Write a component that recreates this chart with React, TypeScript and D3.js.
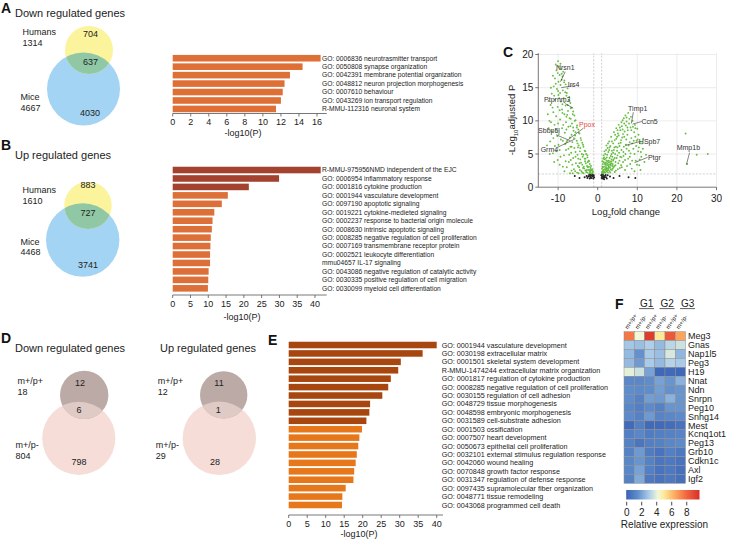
import React from 'react';
import * as d3 from 'd3';

const FONT = '"Liberation Sans", Arial, Helvetica, sans-serif';

// ---------------- Venn data ----------------
const vennABNames = ['Humans', 'Mice'];
const vennATotals = [1314, 4667];
const vennACounts = [704, 637, 4030]; // top only, overlap, bottom only
const vennBTotals = [1610, 4468];
const vennBCounts = [883, 727, 3741];
const vennDNames = ['m+/p+', 'm+/p-'];
const vennDDownTotals = [18, 804];
const vennDDownCounts = [12, 6, 798];
const vennDUpTotals = [12, 29];
const vennDUpCounts = [11, 1, 28];

// ---------------- GO bar data ----------------
const goALabels = [
  'GO: 0006836 neurotrasmitter transport',
  'GO: 0050808 synapse organization',
  'GO: 0042391 membrane potential organization',
  'GO: 0048812 neuron projection morphogenesis',
  'GO: 0007610 behaviour',
  'GO: 0043269 ion transport regulation',
  'R-MMU-112316 neuronal system',
];
const goAValues = [16.4, 14.4, 13.0, 12.4, 12.2, 12.0, 11.45];

const goBLabels = [
  'R-MMU-975956NMD independent of the EJC',
  'GO: 0006954 inflammatory response',
  'GO: 0001816 cytokine production',
  'GO: 0001944 vasculature development',
  'GO: 0097190 apoptotic signaling',
  'GO: 0019221 cytokine-medieted signaling',
  'GO: 0002237 response to bacterial origin molecule',
  'GO: 0008630 intrinsic apoptotic signaling',
  'GO: 0008285 negative regulation of cell proliferation',
  'GO: 0007169 transmembrane receptor protein',
  'GO: 0002521 leukocyte differentiation',
  'mmu04657 IL-17 signaling',
  'GO: 0043086 negative regulation of catalytic activity',
  'GO: 0030335 positive regulation of cell migration',
  'GO: 0030099 myeloid cell differentiation',
];
const goBValues = [41.6, 29.9, 21.4, 15.5, 13.8, 11.7, 11.2, 11.0, 10.7, 10.6, 10.5, 10.5, 10.1, 10.0, 9.9];

const goELabels = [
  'GO: 0001944 vasculature development',
  'GO: 0030198 extracellular matrix',
  'GO: 0001501 skeletal system development',
  'R-MMU-1474244 extracellular matrix organization',
  'GO: 0001817 regulation of cytokine production',
  'GO: 0008285 negative regulation of cell proliferation',
  'GO: 0030155 regulation of cell adhesion',
  'GO: 0048729 tissue morphogenesis',
  'GO: 0048598 embryonic morphogenesis',
  'GO: 0031589 cell-substrate adhesion',
  'GO: 0001503 ossification',
  'GO: 0007507 heart development',
  'GO: 0050673 epithelial cell proliferation',
  'GO: 0032101 external stimulus regulation response',
  'GO: 0042060 wound healing',
  'GO: 0070848 growth factor response',
  'GO: 0031347 regulation of defense response',
  'GO: 0097435 supramolecular fiber organization',
  'GO: 0048771 tissue remodeling',
  'GO: 0043068 programmed cell death',
];
const goEValues = [40.0, 36.2, 30.3, 29.6, 27.6, 26.9, 25.3, 22.0, 21.8, 21.0, 19.8, 19.1, 18.8, 18.4, 18.1, 17.7, 17.5, 15.4, 14.5, 14.4];

// ---------------- Volcano data ----------------
const volcanoDown: [number, number][] = [
  [-10, 19], [-9.8, 18.2], [-10.4, 17.6], [-9.2, 17.8], [-9.6, 16.9], [-10.8, 16.4], [-8.9, 16.7], [-9.9, 15.9], [-8.4, 16.1],
  [-11.1, 15.2], [-9.4, 15.4], [-8.1, 15.5], [-10.3, 14.8], [-8.8, 14.6], [-7.6, 14.9], [-11.6, 14.1], [-9.9, 13.9], [-7.9, 13.8],
  [-8.6, 13.4], [-10.8, 13.2], [-7.2, 13.6], [-9.3, 12.9], [-6.9, 12.7], [-11.9, 12.4], [-8.1, 12.3], [-10.1, 12.1], [-6.6, 12.0],
  [-9.0, 11.7], [-7.5, 11.5], [-11.2, 11.3], [-6.2, 11.4], [-8.4, 11.0], [-10.5, 10.7], [-5.9, 10.8], [-7.1, 10.4], [-9.5, 10.2],
  [-12.2, 10.0], [-5.6, 10.1], [-8.0, 9.8], [-6.5, 9.6], [-10.9, 9.4], [-5.2, 9.3], [-7.4, 9.1], [-9.0, 8.9], [-4.9, 8.7],
  [-6.1, 8.5], [-11.5, 8.4], [-8.3, 8.2], [-4.6, 8.1], [-5.7, 7.8], [-10.2, 7.7], [-7.0, 7.5], [-4.3, 7.4], [-9.3, 7.2],
  [-5.3, 7.0], [-12.0, 6.9], [-6.4, 6.8], [-3.9, 6.7], [-8.2, 6.5], [-4.8, 6.3], [-10.8, 6.2], [-3.6, 6.1], [-5.9, 5.9],
  [-7.4, 5.8], [-9.6, 5.6], [-3.3, 5.5], [-4.5, 5.4], [-6.7, 5.2], [-11.3, 5.1], [-2.9, 5.0], [-5.1, 4.9], [-8.5, 4.8],
  [-3.8, 4.6], [-2.6, 4.5], [-6.2, 4.4], [-4.4, 4.2], [-10.1, 4.1], [-2.3, 4.0], [-3.2, 3.9], [-7.3, 3.8], [-5.5, 3.6],
  [-2.0, 3.5], [-3.9, 3.4], [-2.7, 3.2], [-8.8, 3.1], [-4.7, 3.0], [-1.8, 2.9], [-3.4, 2.8], [-6.0, 2.7], [-2.4, 2.6],
  [-1.5, 2.5], [-4.1, 2.4], [-2.9, 2.3], [-1.3, 2.2], [-5.2, 2.2], [-2.1, 2.1], [-3.6, 2.1], [-1.6, 2.05], [-7.0, 2.1],
  [-9.1, 17.1], [-8.5, 15.8], [-7.8, 14.2], [-7.3, 13.1], [-6.8, 11.9], [-6.3, 11.0], [-5.8, 10.0], [-5.3, 9.0], [-4.8, 8.2],
  [-4.2, 7.1], [-3.7, 6.4], [-3.1, 5.4], [-2.6, 4.8], [-2.2, 3.9], [-1.7, 3.2], [-1.4, 2.7], [-9.5, 14.2], [-8.9, 12.5],
  [-7.7, 10.9], [-6.9, 9.2], [-6.0, 7.4], [-5.0, 6.0], [-4.0, 5.0], [-3.0, 3.6], [-2.0, 2.6], [-1.9, 2.3], [-2.5, 3.0],
  [-3.3, 4.3], [-1.2, 2.4], [-1.7, 2.6], [-2.8, 2.6], [-3.5, 3.1], [-4.6, 3.6], [-5.6, 4.6], [-6.6, 6.1], [-7.7, 7.0],
  [-10.6, 18.5], [-9.4, 18.6], [-10.1, 17.2], [-11.3, 16.8], [-8.7, 17.4], [-10.6, 15.6], [-9.1, 16.2], [-11.8, 15.0],
  [-8.2, 14.3], [-10.0, 14.5], [-11.0, 13.8], [-9.7, 13.4], [-12.4, 13.0], [-8.4, 12.8], [-7.6, 12.4], [-11.4, 12.0],
  [-9.6, 11.6], [-8.9, 11.2], [-12.6, 11.0], [-7.9, 10.6], [-6.8, 10.3], [-11.8, 9.8], [-10.0, 9.6], [-8.7, 9.4],
  [-6.2, 9.0], [-7.9, 8.7], [-12.4, 8.9], [-10.6, 8.5], [-5.6, 8.3], [-9.8, 8.0], [-6.6, 7.9], [-11.2, 7.4], [-8.8, 7.0],
  [-7.9, 6.8], [-5.1, 6.6], [-12.8, 6.3], [-9.9, 6.4], [-6.9, 6.1], [-4.4, 5.9], [-8.0, 5.6], [-10.5, 5.4], [-5.6, 5.3],
  [-12.1, 5.0], [-7.2, 4.9], [-3.6, 4.9], [-9.4, 4.6], [-4.9, 4.3], [-6.8, 4.1], [-3.1, 4.3], [-8.1, 3.9], [-11.0, 3.8],
  [-4.2, 3.7], [-6.4, 3.4], [-2.5, 3.8], [-9.6, 3.4], [-5.0, 3.2], [-7.8, 3.0], [-3.7, 2.9], [-2.2, 3.1], [-6.6, 2.5],
  [-4.5, 2.6], [-8.4, 2.4], [-3.1, 2.5], [-1.9, 2.4], [-5.7, 2.4], [-2.6, 2.2], [-4.8, 2.1], [-1.4, 2.1], [-3.9, 2.2],
  [-6.3, 2.1],
];
const volcanoUp: [number, number][] = [
  [1.2, 2.1], [1.4, 2.6], [1.6, 3.1], [1.3, 3.5], [1.8, 2.3], [2.0, 2.9], [2.1, 3.7], [1.7, 4.2], [2.4, 2.5], [2.6, 3.3],
  [2.3, 4.5], [2.8, 4.0], [1.9, 5.0], [3.0, 2.4], [3.1, 3.0], [2.7, 5.3], [3.3, 4.7], [3.5, 3.6], [2.5, 5.9], [3.8, 2.8],
  [3.6, 5.5], [4.0, 4.2], [3.2, 6.2], [4.2, 3.2], [4.4, 5.0], [3.9, 6.6], [4.6, 2.5], [4.8, 4.4], [4.3, 7.1], [5.0, 6.0],
  [5.2, 3.6], [4.9, 7.6], [5.4, 5.2], [5.6, 2.9], [5.1, 8.1], [5.8, 6.7], [6.0, 4.5], [5.7, 8.6], [6.2, 7.5], [6.4, 3.8],
  [6.1, 9.2], [6.6, 6.1], [6.8, 8.4], [7.0, 5.0], [6.7, 9.6], [7.2, 7.2], [7.4, 3.2], [7.3, 9.9], [7.6, 8.6], [7.8, 6.3],
  [8.0, 10.3], [8.1, 4.6], [8.3, 9.0], [8.5, 7.4], [8.6, 2.8], [8.8, 10.0], [9.0, 5.8], [9.2, 8.3], [9.4, 9.4], [9.6, 4.0],
  [9.8, 7.0], [10.0, 8.8], [10.2, 5.4], [10.5, 3.3], [10.7, 6.6], [11.0, 4.6], [11.4, 5.8], [11.8, 3.8], [12.2, 4.9],
  [1.5, 4.8], [2.2, 6.3], [2.9, 6.9], [3.4, 7.6], [4.1, 8.3], [4.7, 8.9], [5.3, 9.4], [6.3, 10.1], [7.0, 10.8], [7.7, 11.2],
  [1.1, 2.8], [1.5, 3.8], [2.0, 2.2], [2.2, 4.0], [2.5, 2.8], [2.9, 3.4], [3.2, 2.2], [3.4, 3.9], [3.7, 4.6], [4.0, 3.0],
  [4.5, 3.8], [5.0, 4.8], [5.5, 4.0], [6.0, 5.6], [6.5, 4.7], [7.1, 6.4], [7.9, 5.5], [8.7, 6.6], [9.5, 7.6], [10.3, 7.9],
  [1.3, 2.4], [1.7, 2.7], [2.1, 3.2], [2.6, 2.2], [3.0, 4.4], [3.6, 2.6], [4.3, 2.3], [4.6, 6.1], [5.9, 3.3], [6.9, 2.6],
  [8.2, 3.5], [9.3, 2.4], [10.8, 2.6], [11.5, 7.3], [1.2, 3.1], [1.4, 2.2], [1.9, 3.4], [2.3, 2.4], [2.7, 3.7], [3.3, 3.3],
  [1.6, 2.3], [2.0, 4.3], [2.4, 3.5], [2.8, 2.9], [3.5, 4.2], [3.9, 5.2], [4.2, 6.0], [5.3, 6.6], [6.4, 8.0], [7.5, 9.0],
  [1.1, 2.3], [1.3, 3.0], [1.5, 2.1], [1.8, 3.6], [1.6, 4.5], [2.0, 3.5], [2.2, 2.7], [2.4, 4.9], [2.7, 2.6], [2.9, 5.6],
  [3.1, 3.8], [3.3, 2.7], [3.5, 5.0], [3.7, 3.2], [3.9, 4.0], [4.1, 5.6], [4.3, 4.4], [4.5, 3.3], [4.7, 7.3], [4.9, 5.5],
  [5.1, 2.7], [5.3, 7.8], [5.5, 6.2], [5.7, 4.6], [5.9, 7.1], [6.1, 3.0], [6.3, 8.7], [6.5, 5.3], [6.7, 7.6], [6.9, 4.1],
  [7.1, 9.3], [7.3, 5.8], [7.5, 7.9], [7.7, 4.3], [7.9, 9.6], [8.1, 6.8], [8.3, 5.1], [8.5, 8.6], [8.7, 4.0], [8.9, 9.1],
  [9.1, 7.0], [9.3, 5.0], [9.5, 8.9], [9.7, 6.2], [9.9, 3.4], [10.1, 7.2], [10.4, 6.0], [10.6, 4.2], [10.9, 5.3], [11.2, 6.6],
  [1.2, 3.9], [1.4, 4.3], [1.7, 5.4], [2.1, 5.6], [2.6, 6.6], [3.0, 6.0], [3.6, 6.9], [4.4, 7.9], [5.0, 8.6], [5.6, 9.0],
  [6.0, 9.8], [6.6, 10.4], [7.3, 10.5], [8.4, 10.6], [2.3, 2.9], [2.8, 3.1], [3.2, 3.5], [1.9, 2.6], [2.5, 3.9], [3.8, 3.5],
  [22.2, 8.1], [22.6, 3.5], [25.0, 4.9], [27.8, 5.0],
];
const volcanoNS: [number, number][] = [
  [-1.2, 1.6], [-1.5, 1.8], [-1.8, 1.5], [-2.1, 1.9], [-2.4, 1.6], [-1.3, 1.95], [-2.8, 1.7], [-3.3, 1.5], [-1.6, 1.4],
  [-2.0, 1.3], [-4.6, 1.4], [-5.8, 1.7], [1.1, 1.6], [1.3, 1.9], [1.5, 1.4], [1.8, 1.7], [2.1, 1.5], [1.2, 1.3], [2.5, 1.8],
  [1.6, 1.2], [3.1, 1.6], [4.0, 1.4], [5.5, 1.7], [7.8, 1.5], [9.5, 1.4], [-0.9, 1.5], [0.9, 1.8], [-1.1, 1.3], [1.0, 1.4],
  [-1.4, 1.7], [1.4, 1.7], [-2.2, 1.7], [2.0, 1.85], [-1.7, 1.9], [-1.0, 1.8], [-2.6, 1.4], [1.7, 1.5], [1.1, 1.95],
  [2.3, 1.3], [1.4, 1.5], [-1.9, 1.7],
];
// label, point x, point y, label-anchor x, label-anchor y, text x, text y
const volcanoLabels: [string, number, number, number, number, number, number][] = [
  ['Nrsn1', -9.4, 15.9, -8.2, 17.4, -8.2, 18.1],
  ['Irs4', -9.2, 15.0, -6.2, 15.3, -6.1, 15.5],
  ['Ptprnm3', -6.2, 11.9, -8.2, 12.6, -10.2, 13.2],
  ['Sbbp5l', -6.9, 7.0, -10.5, 7.9, -12.3, 8.6],
  ['Ppox', -7.4, 7.2, -3.6, 8.9, -2.7, 9.5],
  ['Grm4', -5.6, 7.3, -10.2, 6.0, -12.2, 5.7],
  ['Timp1', 8.5, 9.6, 9.0, 11.3, 10.1, 11.9],
  ['Ccn5', 8.8, 9.5, 11.1, 9.9, 13.1, 9.9],
  ['HSpb7', 7.0, 6.3, 10.8, 6.9, 13.1, 6.9],
  ['Ptgr', 9.3, 3.7, 12.6, 4.5, 14.3, 4.4],
  ['Mmp1b', 22.4, 3.4, 23.2, 5.2, 22.9, 6.0],
];
const volcanoXTicks = [-10, 0, 10, 20, 30];
const volcanoYTicks = [0, 5, 10, 15, 20];

// ---------------- Heatmap data ----------------
const genes = ['Meg3', 'Gnas', 'Nap1l5', 'Peg3', 'H19', 'Nnat', 'Ndn', 'Snrpn', 'Peg10', 'Snhg14', 'Mest', 'Kcnq1ot1', 'Peg13', 'Grb10', 'Cdkn1c', 'Axl', 'Igf2'];
const hmColumns = ['m+/p+', 'm+/p-', 'm+/p+', 'm+/p-', 'm+/p+', 'm+/p-'];
const hmGroups = ['G1', 'G2', 'G3'];
const hmValues = [
  [7.6, 4.2, 9.3, 5.0, 8.4, 6.6],
  [2.9, 2.7, 3.1, 2.6, 3.3, 3.6],
  [2.6, 1.6, 3.0, 2.7, 3.8, 2.5],
  [2.6, 1.8, 3.0, 2.6, 3.2, 3.0],
  [4.0, 3.6, 2.0, 0.2, 0.3, 0.2],
  [1.3, 1.3, 1.5, 2.0, 1.7, 2.4],
  [1.5, 1.4, 1.5, 1.9, 1.6, 1.7],
  [1.5, 1.1, 1.9, 1.8, 2.4, 1.7],
  [1.3, 1.0, 1.4, 1.1, 1.7, 1.7],
  [1.4, 1.1, 1.8, 1.2, 1.3, 1.4],
  [0.3, 1.0, 0.3, 0.3, 0.4, 0.6],
  [1.0, 1.3, 0.9, 1.0, 1.1, 1.2],
  [1.1, 0.7, 1.0, 1.1, 1.3, 1.4],
  [1.1, 1.8, 0.9, 0.6, 1.0, 0.8],
  [1.3, 1.7, 1.1, 0.7, 0.8, 0.6],
  [1.3, 2.0, 1.0, 0.6, 0.8, 0.5],
  [1.1, 2.2, 0.8, 0.6, 0.8, 0.5],
];
const colorStops = [0, 1.5, 3, 4.2, 5, 6.5, 8, 9.7];
const colorHex = ['#3a62b5', '#5f8dcb', '#a9cbe9', '#f1f7d7', '#fde99a', '#fca85e', '#f0653f', '#d7302a'];
const colorbarTicks = [0, 2, 4, 6, 8];

// ---------------- Components ----------------
type VennProps = {
  id: string;
  small: [number, number, number];
  big: [number, number, number];
  colors: [string, string, string];
  names: string[];
  totals: number[];
  counts: number[];
  nameX: number;
  nameY: [number, number];
  countPos: [number, number][];
};

function Venn(p: VennProps) {
  const fs = 9;
  return (
    <g fontFamily={FONT} fontSize={fs} fill="#222">
      <defs>
        <clipPath id={p.id}>
          <circle cx={p.big[0]} cy={p.big[1]} r={p.big[2]} />
        </clipPath>
      </defs>
      <circle cx={p.big[0]} cy={p.big[1]} r={p.big[2]} fill={p.colors[1]} />
      <circle cx={p.small[0]} cy={p.small[1]} r={p.small[2]} fill={p.colors[0]} />
      <circle cx={p.small[0]} cy={p.small[1]} r={p.small[2]} fill={p.colors[2]} clipPath={`url(#${p.id})`} />
      <text x={p.nameX} y={p.nameY[0]} dy="0.35em">{p.names[0]}</text>
      <text x={p.nameX} y={p.nameY[0] + 10.5} dy="0.35em">{p.totals[0]}</text>
      <text x={p.nameX - 2} y={p.nameY[1]} dy="0.35em">{p.names[1]}</text>
      <text x={p.nameX - 2} y={p.nameY[1] + 10.5} dy="0.35em">{p.totals[1]}</text>
      {p.counts.map((c, i) => (
        <text key={i} x={p.countPos[i][0]} y={p.countPos[i][1]} dy="0.35em" textAnchor="middle">{c}</text>
      ))}
    </g>
  );
}

type BarsProps = {
  labels: string[];
  values: number[];
  nDark: number;
  dark: string;
  light: string;
  x0: number;
  x1: number;
  maxV: number;
  tickStep: number;
  top: number;
  step: number;
  axisY: number;
  axisEnd: number;
  labelX: number;
  labelSize: number;
  titleX: number;
  titleY: number;
};

function GoBars(p: BarsProps) {
  const n = p.values.length;
  const x = d3.scaleLinear().domain([0, p.maxV]).range([p.x0, p.x1]);
  const y = d3.scaleBand<number>().domain(d3.range(n)).range([p.top, p.top + n * p.step]).paddingInner(0.22).paddingOuter(0.11);
  const ticks = d3.range(0, p.maxV + 0.001, p.tickStep);
  return (
    <g fontFamily={FONT}>
      {p.values.map((v, i) => (
        <rect key={i} x={x(0)} y={y(i)} width={x(v) - x(0)} height={y.bandwidth()} fill={i < p.nDark ? p.dark : p.light} />
      ))}
      {p.labels.map((l, i) => (
        <text key={i} x={p.labelX} y={(y(i) as number) + y.bandwidth() / 2} dy="0.35em" fontSize={p.labelSize} fill="#222">{l}</text>
      ))}
      <line x1={p.x0} x2={p.axisEnd} y1={p.axisY} y2={p.axisY} stroke="#555" strokeWidth={0.8} />
      {ticks.map((t) => (
        <g key={t}>
          <line x1={x(t)} x2={x(t)} y1={p.axisY} y2={p.axisY + 3} stroke="#555" strokeWidth={0.8} />
          <text x={x(t)} y={p.axisY + 8.5} dy="0.35em" fontSize={9} textAnchor="middle" fill="#222">{t}</text>
        </g>
      ))}
      <text x={p.titleX} y={p.titleY} dy="0.35em" fontSize={9} textAnchor="middle" fill="#222">-log10(P)</text>
    </g>
  );
}

function Volcano() {
  const x = d3.scaleLinear().domain([-15, 30]).range([538.3, 716.5]);
  const y = d3.scaleLinear().domain([0, 20]).range([187.2, 54.5]);
  const [xa, xb] = x.range();
  const top = y(20.2);
  return (
    <g fontFamily={FONT}>
      {volcanoYTicks.filter((t) => t > 0).map((t) => (
        <line key={'gy' + t} x1={xa} x2={xb} y1={y(t)} y2={y(t)} stroke="#e4e4e4" strokeWidth={0.7} />
      ))}
      {volcanoXTicks.filter((t) => t !== 0).map((t) => (
        <line key={'gx' + t} x1={x(t)} x2={x(t)} y1={y(0)} y2={top} stroke="#e4e4e4" strokeWidth={0.7} />
      ))}
      <line x1={x(-1)} x2={x(-1)} y1={y(0)} y2={top} stroke="#bbb" strokeWidth={0.7} strokeDasharray="2,1.5" />
      <line x1={x(1)} x2={x(1)} y1={y(0)} y2={top} stroke="#bbb" strokeWidth={0.7} strokeDasharray="2,1.5" />
      <line x1={xa} x2={xb} y1={y(2)} y2={y(2)} stroke="#bbb" strokeWidth={0.7} strokeDasharray="2,1.5" />
      {volcanoNS.map((d, i) => (
        <circle key={'n' + i} cx={x(d[0])} cy={y(d[1])} r={1} fill="#222" />
      ))}
      {volcanoDown.concat(volcanoUp).map((d, i) => (
        <circle key={'g' + i} cx={x(d[0])} cy={y(d[1])} r={0.95} fill="#66bd42" />
      ))}
      {volcanoLabels.map((l) => (
        <g key={l[0]}>
          <line x1={x(l[1])} y1={y(l[2])} x2={x(l[3])} y2={y(l[4])} stroke="#333" strokeWidth={0.6} />
          <text x={x(l[5])} y={y(l[6])} dy="0.35em" fontSize={7} textAnchor="middle" fill={l[0] === 'Ppox' ? '#e8463c' : '#333'}>{l[0]}</text>
        </g>
      ))}
      <line x1={xa} x2={xa} y1={y(0)} y2={top} stroke="#555" strokeWidth={0.8} />
      <line x1={xa} x2={xb} y1={y(0)} y2={y(0)} stroke="#555" strokeWidth={0.8} />
      {volcanoYTicks.map((t) => (
        <g key={'yt' + t}>
          <line x1={xa - 3} x2={xa} y1={y(t)} y2={y(t)} stroke="#555" strokeWidth={0.8} />
          <text x={xa - 5} y={y(t)} dy="0.35em" fontSize={10} textAnchor="end" fill="#222">{t}</text>
        </g>
      ))}
      {volcanoXTicks.map((t) => (
        <g key={'xt' + t}>
          <line x1={x(t)} x2={x(t)} y1={y(0)} y2={y(0) + 3} stroke="#555" strokeWidth={0.8} />
          <text x={x(t)} y={y(0) + 11} dy="0.35em" fontSize={10} textAnchor="middle" fill="#222">{t}</text>
        </g>
      ))}
      <text x={626} y={212} dy="0.35em" fontSize={9.5} textAnchor="middle" fill="#222">
        Log<tspan fontSize={6} dy="3">2</tspan><tspan dy="-3">fold change</tspan>
      </text>
      <text transform={`translate(512,120) rotate(-90)`} dy="0.35em" fontSize={9.5} textAnchor="middle" fill="#222">
        -Log<tspan fontSize={6} dy="3">10</tspan><tspan dy="-3">adjusted P</tspan>
      </text>
    </g>
  );
}

function Heatmap() {
  const x0 = 624, x1 = 685.5, y0 = 331.7, y1 = 483.3;
  const xs = d3.scaleBand<number>().domain(d3.range(hmColumns.length)).range([x0, x1]);
  const ys = d3.scaleBand<number>().domain(d3.range(genes.length)).range([y0, y1]);
  const color = d3.scaleLinear<string>().domain(colorStops).range(colorHex).interpolate(d3.interpolateRgb);
  const cbX = d3.scaleLinear().domain([0, 9.7]).range([626.7, 699.5]);
  const cbTop = 490, cbH = 9.5;
  return (
    <g fontFamily={FONT}>
      <defs>
        <linearGradient id="cbgrad" x1="0" x2="1" y1="0" y2="0">
          {colorStops.map((s, i) => (
            <stop key={i} offset={`${(s / 9.7) * 100}%`} stopColor={colorHex[i]} />
          ))}
        </linearGradient>
      </defs>
      {hmValues.map((row, r) =>
        row.map((v, c) => (
          <rect key={r + '-' + c} x={xs(c)} y={ys(r)} width={xs.bandwidth()} height={ys.bandwidth()} fill={color(v)} stroke="#8e8e8e" strokeWidth={0.5} />
        ))
      )}
      {genes.map((g, r) => (
        <text key={g} x={x1 + 2.5} y={(ys(r) as number) + ys.bandwidth() / 2} dy="0.36em" fontSize={9} fill="#222">{g}</text>
      ))}
      {hmColumns.map((c, i) => (
        <text key={i} transform={`translate(${(xs(i) as number) + xs.bandwidth() / 2 - 1.5},329.5) rotate(-55)`} fontSize={6} fill="#222">{c}</text>
      ))}
      {hmGroups.map((g, i) => {
        const cx = (xs(i * 2) as number) + xs.bandwidth() + 12.3;
        return (
          <g key={g}>
            <text x={cx} y={303.5} dy="0.35em" fontSize={10} textAnchor="middle" fill="#222">{g}</text>
            <line x1={cx - 7.5} x2={cx + 7.5} y1={308.6} y2={308.6} stroke="#333" strokeWidth={0.8} />
          </g>
        );
      })}
      <rect x={cbX(0) - 0.5} y={cbTop} width={cbX(9.7) - cbX(0) + 0.5} height={cbH} fill="url(#cbgrad)" />
      {colorbarTicks.map((t) => (
        <g key={t}>
          <line x1={cbX(t)} x2={cbX(t)} y1={cbTop + cbH + 2.3} y2={cbTop + cbH + 6} stroke="#333" strokeWidth={0.9} />
          <text x={cbX(t)} y={512.7} dy="0.35em" fontSize={10} textAnchor="middle" fill="#222">{t}</text>
        </g>
      ))}
      <text x={664.5} y={524.3} dy="0.35em" fontSize={10} textAnchor="middle" fill="#222">Relative expression</text>
    </g>
  );
}

function PanelLabel({ x, y, t }: { x: number; y: number; t: string }) {
  return (
    <text x={x} y={y} dy="0.36em" fontFamily={FONT} fontWeight="bold" fontSize={14} fill="#111">{t}</text>
  );
}

function Title({ x, y, t }: { x: number; y: number; t: string }) {
  return (
    <text x={x} y={y} dy="0.35em" fontFamily={FONT} fontSize={11} fill="#222">{t}</text>
  );
}

export default function App() {
  const abColors: [string, string, string] = ['#fbf49c', '#a3d4f3', '#90c8a5'];
  const dColors: [string, string, string] = ['#bcaaa7', '#f6ddd7', '#dfcac5'];
  return (
    <svg width={730} height={540} style={{ position: 'absolute', left: 0, top: 0, background: '#fff' }}>
      <rect width={730} height={540} fill="#fff" />
      {/* Panel A */}
      <PanelLabel x={1} y={8} t="A" />
      <Title x={15} y={12.7} t="Down regulated genes" />
      <Venn id="va" small={[89, 50, 24]} big={[83.5, 89, 36.5]} colors={abColors} names={vennABNames} totals={vennATotals}
        counts={vennACounts} nameX={22.5} nameY={[32.3, 97.3]} countPos={[[90.5, 34.3], [90.5, 61.7], [90, 113.3]]} />
      <GoBars labels={goALabels} values={goAValues} nDark={0} dark="#dd6f37" light="#dd6f37" x0={172.7} x1={317} maxV={16}
        tickStep={2} top={54} step={8.45} axisY={113.5} axisEnd={326.7} labelX={322} labelSize={6.7} titleX={243} titleY={133.3} />

      {/* Panel B */}
      <PanelLabel x={1} y={145} t="B" />
      <Title x={15} y={155} t="Up regulated genes" />
      <Venn id="vb" small={[88, 205.4, 23.7]} big={[82.7, 240, 36.7]} colors={abColors} names={vennABNames} totals={vennBTotals}
        counts={vennBCounts} nameX={22.5} nameY={[190, 241.7]} countPos={[[88, 185], [88, 213], [88, 265]]} />
      <GoBars labels={goBLabels} values={goBValues} nDark={3} dark="#a3432f" light="#dd7039" x0={172.7} x1={315} maxV={40}
        tickStep={5} top={165.8} step={8.45} axisY={295} axisEnd={326.7} labelX={322} labelSize={6.7} titleX={242} titleY={316.7} />

      {/* Panel C */}
      <PanelLabel x={503} y={52} t="C" />
      <Volcano />

      {/* Panel D */}
      <PanelLabel x={1} y={338} t="D" />
      <Title x={15} y={348} t="Down regulated genes" />
      <Title x={160} y={348} t="Up regulated genes" />
      <Venn id="vd1" small={[84.2, 394.9, 24.2]} big={[78.8, 438.3, 36.6]} colors={dColors} names={vennDNames} totals={vennDDownTotals}
        counts={vennDDownCounts} nameX={17.5} nameY={[381, 445]} countPos={[[80, 382.7], [79, 410], [79, 461.7]]} />
      <Venn id="vd2" small={[223.7, 394.9, 23.7]} big={[219.3, 438.3, 36.7]} colors={dColors} names={vennDNames} totals={vennDUpTotals}
        counts={vennDUpCounts} nameX={157.7} nameY={[381, 445]} countPos={[[219, 382.7], [218.3, 410], [215, 461.7]]} />

      {/* Panel E */}
      <PanelLabel x={268} y={339.7} t="E" />
      <GoBars labels={goELabels} values={goEValues} nDark={10} dark="#a8460f" light="#e6781b" x0={288.7} x1={436.7} maxV={40}
        tickStep={5} top={340.8} step={8.42} axisY={515} axisEnd={443} labelX={441.7} labelSize={7.2} titleX={359} titleY={534} />

      {/* Panel F */}
      <PanelLabel x={615} y={304} t="F" />
      <Heatmap />
    </svg>
  );
}
